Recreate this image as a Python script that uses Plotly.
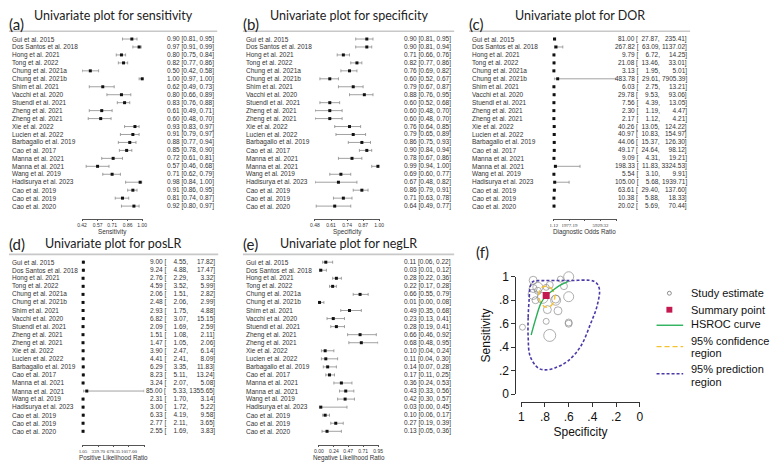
import plotly.graph_objects as go

# --- data ---
studies = ["Gui et al. 2015", "Dos Santos et al. 2018", "Hong et al. 2021", "Tong et al. 2022",
           "Chung et al. 2021a", "Chung et al. 2021b", "Shim et al. 2021", "Vacchi et al. 2020",
           "Stuendl et al. 2021", "Zheng et al. 2021", "Zheng et al. 2021", "Xie et al. 2022",
           "Lucien et al. 2022", "Barbagallo et al. 2019", "Cao et al. 2017", "Manna et al. 2021",
           "Manna et al. 2021", "Wang et al. 2019", "Hadisurya et al. 2023", "Cao et al. 2019",
           "Cao et al. 2019", "Cao et al. 2020"]

sens = [0.90, 0.97, 0.80, 0.82, 0.50, 1.00, 0.62, 0.80, 0.83, 0.61, 0.60, 0.93, 0.91, 0.88, 0.85, 0.72, 0.57, 0.71, 0.98, 0.91, 0.81, 0.92]
sens_lo = [0.81, 0.91, 0.75, 0.77, 0.42, 0.97, 0.49, 0.66, 0.76, 0.49, 0.48, 0.83, 0.79, 0.77, 0.78, 0.61, 0.46, 0.62, 0.84, 0.86, 0.74, 0.80]
sens_hi = [0.95, 0.99, 0.84, 0.86, 0.58, 1.00, 0.73, 0.89, 0.88, 0.71, 0.70, 0.97, 0.97, 0.94, 0.90, 0.81, 0.68, 0.79, 1.00, 0.95, 0.87, 0.97]

spec = [0.90, 0.90, 0.71, 0.82, 0.76, 0.60, 0.79, 0.88, 0.60, 0.60, 0.60, 0.76, 0.79, 0.86, 0.90, 0.78, 0.99, 0.69, 0.67, 0.86, 0.71, 0.64]
spec_lo = [0.81, 0.81, 0.66, 0.77, 0.69, 0.52, 0.67, 0.76, 0.52, 0.48, 0.48, 0.64, 0.65, 0.75, 0.84, 0.67, 0.94, 0.60, 0.48, 0.79, 0.63, 0.49]
spec_hi = [0.95, 0.94, 0.76, 0.86, 0.82, 0.67, 0.87, 0.95, 0.68, 0.70, 0.70, 0.85, 0.89, 0.93, 0.94, 0.86, 1.00, 0.77, 0.82, 0.91, 0.78, 0.77]

dor = [81.00, 267.82, 9.79, 21.08, 3.13, 483.78, 6.03, 29.78, 7.56, 2.30, 2.17, 40.26, 40.97, 44.06, 49.17, 9.09, 198.33, 5.54, 105.00, 63.61, 10.38, 20.02]
dor_lo = [27.87, 63.09, 6.72, 13.46, 1.95, 29.61, 2.75, 9.53, 4.39, 1.19, 1.12, 13.05, 10.83, 15.37, 24.64, 4.31, 11.83, 3.10, 5.68, 29.40, 5.88, 5.69]
dor_hi = [235.41, 1137.02, 14.25, 33.01, 5.01, 7905.39, 13.21, 93.06, 13.05, 4.47, 4.21, 124.22, 154.97, 126.30, 98.12, 19.21, 3324.53, 9.91, 1939.71, 137.60, 18.33, 70.44]

plr = [9.00, 9.24, 2.76, 4.59, 2.06, 2.48, 2.93, 6.82, 2.09, 1.51, 1.47, 3.90, 4.41, 6.29, 8.23, 3.24, 85.00, 2.31, 3.00, 6.33, 2.77, 2.55]
plr_lo = [4.55, 4.88, 2.29, 3.52, 1.51, 2.06, 1.75, 3.07, 1.69, 1.08, 1.05, 2.47, 2.41, 3.35, 5.11, 2.07, 5.33, 1.70, 1.72, 4.19, 2.11, 1.69]
plr_hi = [17.82, 17.47, 3.32, 5.99, 2.82, 2.99, 4.88, 15.15, 2.59, 2.11, 2.06, 6.14, 8.09, 11.83, 13.24, 5.08, 1355.65, 3.14, 5.22, 9.58, 3.65, 3.83]

nlr = [0.11, 0.03, 0.28, 0.22, 0.66, 0.01, 0.49, 0.23, 0.28, 0.66, 0.68, 0.10, 0.11, 0.14, 0.17, 0.36, 0.43, 0.42, 0.03, 0.10, 0.27, 0.13]
nlr_lo = [0.06, 0.01, 0.22, 0.17, 0.55, 0.00, 0.35, 0.13, 0.19, 0.46, 0.48, 0.04, 0.04, 0.07, 0.11, 0.24, 0.33, 0.30, 0.00, 0.06, 0.19, 0.05]
nlr_hi = [0.22, 0.12, 0.36, 0.28, 0.79, 0.08, 0.68, 0.41, 0.41, 0.92, 0.95, 0.24, 0.30, 0.28, 0.25, 0.53, 0.56, 0.57, 0.45, 0.17, 0.39, 0.36]

sens_ticks = [0.42, 0.57, 0.71, 0.86, 1.00]
spec_ticks = [0.48, 0.61, 0.74, 0.87, 1.00]
dor_ticks = [1.12, 1977.19, 3953.26, 5929.32, 7905.39]
dor_ticklabels = ["1.12", "1977.19", "", "5929.32", ""]
plr_ticks = [1.05, 339.70, 678.35, 1017.00, 1355.65]
plr_ticklabels = ["1.05", "339.70", "678.35", "1017.00", ""]
nlr_ticks = [0.00, 0.24, 0.47, 0.71, 0.95]

# SROC panel (f): study circles use spec/sens above, sizes
circle_size = [8, 8, 10, 11, 12, 10, 6, 7, 10, 7, 7, 7, 6, 7, 10, 8, 6, 8, 6, 10, 8, 7]
summary_spec = [0.79]
summary_sens = [0.84]
hsroc_spec = [0.917, 0.875, 0.833, 0.792, 0.733, 0.675, 0.608]
hsroc_sens = [0.504, 0.653, 0.777, 0.835, 0.884, 0.926, 0.959]
conf_spec = [0.717, 0.733, 0.775, 0.825, 0.850, 0.842, 0.800, 0.750, 0.717]
conf_sens = [0.826, 0.884, 0.917, 0.909, 0.860, 0.793, 0.744, 0.752, 0.826]
pred_spec = [0.933, 0.942, 0.942, 0.925, 0.858, 0.800, 0.717, 0.608, 0.500, 0.417, 0.358, 0.342,
             0.383, 0.608, 0.817, 0.900, 0.925, 0.933]
pred_sens = [0.818, 0.653, 0.488, 0.322, 0.223, 0.207, 0.223, 0.281, 0.405, 0.595, 0.760, 0.901,
             0.959, 0.967, 0.967, 0.959, 0.917, 0.818]
roc_ticks = [1, 0.8, 0.6, 0.4, 0.2, 0]
roc_ticktext = ["1", ".8", ".6", ".4", ".2", "0"]

W, H = 780, 471


def px(x):
    return x / W


def py(y):
    return 1 - y / H


def fmt_simple(e, l, h):
    return f"{e:.2f} [{l:.2f}, {h:.2f}]"


FS = "\u2007"  # figure space, same width as a digit


def fmt_padded(e, l, h):
    ls = f"{l:.2f}".rjust(6, FS)
    hs = f"{h:.2f}".rjust(7, FS)
    return f"{e:.2f} [{ls}, {hs}]"


fig = go.Figure()
annotations = []
shapes = []

sans_ticks = dict(family="Liberation Sans, Arial", size=5, color="#333333")
serif_ticks = dict(family="Liberation Serif, Times New Roman", size=4.9, color="#333333")

# top: y of the panel title, letter, separator and first row; axis_y: y of the x axis line
forest = [
    dict(letter="(a)", title="Univariate plot for sensitivity", est=sens, lo=sens_lo, hi=sens_hi,
         ticks=sens_ticks, ticktext=[f"{t:.2f}" for t in sens_ticks], axtitle="Sensitivity",
         left=6, ax0=78, ax1=139, right=213, title_y=9, letter_y=18, line_y=25, row0=33, step=8.2,
         axis_y=218, tf=sans_ticks, fmt=fmt_simple),
    dict(letter="(b)", title="Univariate plot for specificity", est=spec, lo=spec_lo, hi=spec_hi,
         ticks=spec_ticks, ticktext=[f"{t:.2f}" for t in spec_ticks], axtitle="Specificity",
         left=243, ax0=314, ax1=379, right=453, title_y=9, letter_y=18, line_y=25, row0=33, step=8.2,
         axis_y=218, tf=sans_ticks, fmt=fmt_simple),
    dict(letter="(c)", title="Univariate plot for DOR", est=dor, lo=dor_lo, hi=dor_hi,
         ticks=dor_ticks, ticktext=dor_ticklabels, axtitle="Diagnostic Odds Ratio",
         left=472, ax0=556, ax1=619, right=692, title_y=9, letter_y=18, line_y=25, row0=33, step=8.2,
         axis_y=218, tf=serif_ticks, fmt=fmt_padded),
    dict(letter="(d)", title="Univariate plot for posLR", est=plr, lo=plr_lo, hi=plr_hi,
         ticks=plr_ticks, ticktext=plr_ticklabels, axtitle="Positive Likelihood Ratio",
         left=6, ax0=79, ax1=141, right=214, title_y=243.5, letter_y=244, line_y=255, row0=263, step=8.3,
         axis_y=451, tf=serif_ticks, fmt=fmt_padded),
    dict(letter="(e)", title="Univariate plot for negLR", est=nlr, lo=nlr_lo, hi=nlr_hi,
         ticks=nlr_ticks, ticktext=[f"{t:.2f}" for t in nlr_ticks], axtitle="Negative Likelihood Ratio",
         left=243, ax0=318, ax1=378, right=453, title_y=243.5, letter_y=244, line_y=255, row0=263, step=8.3,
         axis_y=451, tf=sans_ticks, fmt=fmt_simple),
]

rows = list(range(len(studies)))
text_font = dict(family="Liberation Sans, Arial", size=6.5, color="#333333")
layout_axes = {}

for i, p in enumerate(forest):
    n = i + 1
    xa = "x" if n == 1 else f"x{n}"
    ya = "y" if n == 1 else f"y{n}"
    step = p["step"]
    row0 = p["row0"]
    row_last = row0 + step * (len(studies) - 1)

    fig.add_trace(go.Scatter(
        x=p["est"], y=rows, xaxis=xa, yaxis=ya, mode="markers", showlegend=False,
        cliponaxis=False,
        marker=dict(symbol="square", size=3, color="#111111"),
        error_x=dict(type="data", symmetric=False,
                     array=[h - e for e, h in zip(p["est"], p["hi"])],
                     arrayminus=[e - l for e, l in zip(p["est"], p["lo"])],
                     color="#8a8a8a", thickness=0.8, width=1.5),
        hoverinfo="skip",
    ))

    layout_axes["xaxis" if n == 1 else f"xaxis{n}"] = dict(
        domain=[px(p["ax0"]), px(p["ax1"])], range=[p["ticks"][0], p["ticks"][-1]],
        anchor="free", position=py(p["axis_y"]), showline=True, linecolor="#555555", linewidth=0.8,
        ticks="outside", ticklen=2, tickcolor="#555555", tickwidth=0.8,
        tickvals=p["ticks"], ticktext=p["ticktext"], tickangle=0, tickfont=p["tf"],
        showgrid=False, zeroline=False, fixedrange=True,
    )
    layout_axes["yaxis" if n == 1 else f"yaxis{n}"] = dict(
        domain=[py(row_last + step / 2), py(row0 - step / 2)],
        range=[len(studies) - 0.5, -0.5], visible=False, fixedrange=True,
    )

    # study names and estimates
    for r, name in enumerate(studies):
        annotations.append(dict(text=name, xref="paper", yref=ya, x=px(p["left"]), y=r,
                                xanchor="left", yanchor="middle", showarrow=False,
                                borderpad=0, font=text_font))
        annotations.append(dict(text=p["fmt"](p["est"][r], p["lo"][r], p["hi"][r]),
                                xref="paper", yref=ya, x=px(p["right"]), y=r,
                                xanchor="right", yanchor="middle", showarrow=False,
                                borderpad=0, font=text_font))

    # axis title
    annotations.append(dict(text=p["axtitle"], xref="paper", yref="paper",
                            x=px((p["ax0"] + p["ax1"]) / 2), y=py(p["axis_y"] + 13.5),
                            xanchor="center", yanchor="middle", showarrow=False, borderpad=0,
                            font=dict(family="Liberation Sans, Arial", size=6.3, color="#333333")))
    # separator line under title
    shapes.append(dict(type="line", xref="paper", yref="paper",
                       x0=px(p["left"] - 2), x1=px(p["right"] + 2),
                       y0=py(p["line_y"]), y1=py(p["line_y"]),
                       line=dict(color="#c8c8c8", width=1.6)))
    annotations.append(dict(text=p["title"], xref="paper", yref="paper",
                            x=px((p["left"] + p["right"]) / 2), y=py(p["title_y"]),
                            xanchor="center", yanchor="middle", showarrow=False, borderpad=0,
                            font=dict(family="Lato, Open Sans", size=12.5, color="#222222")))
    annotations.append(dict(text=p["letter"], xref="paper", yref="paper",
                            x=px(p["left"] - 3), y=py(p["letter_y"]),
                            xanchor="left", yanchor="middle", showarrow=False, borderpad=0,
                            font=dict(family="Lato, Open Sans", size=15, color="#222222")))

# --- panel (f): SROC plot ---
roc = dict(xaxis="x6", yaxis="y6", cliponaxis=False, hoverinfo="skip", showlegend=False)
pred_color = "#4a3aa8"
conf_color = "#f5c12e"
hsroc_color = "#2bb05a"
summary_color = "#c41a4f"
circle_color = "#8c8c8c"

fig.add_trace(go.Scatter(
    x=spec, y=sens, mode="markers",
    marker=dict(symbol="circle-open", size=circle_size, color=circle_color, line=dict(width=1)),
    **roc))
fig.add_trace(go.Scatter(
    x=pred_spec, y=pred_sens, mode="lines",
    line=dict(color=pred_color, width=1.6, dash="3px,2px", shape="spline", smoothing=1.0), **roc))
fig.add_trace(go.Scatter(
    x=conf_spec, y=conf_sens, mode="lines",
    line=dict(color=conf_color, width=1.4, dash="5px,3px", shape="spline", smoothing=1.0), **roc))
fig.add_trace(go.Scatter(
    x=hsroc_spec, y=hsroc_sens, mode="lines",
    line=dict(color=hsroc_color, width=1.4, shape="spline"), **roc))
fig.add_trace(go.Scatter(
    x=summary_spec, y=summary_sens, mode="markers",
    marker=dict(symbol="square", size=7, color=summary_color), **roc))

roc_font = dict(family="Liberation Sans, Arial", size=12, color="#111111")
layout_axes["xaxis6"] = dict(
    domain=[px(523), px(643)], range=[1, 0], anchor="free", position=py(407),
    showline=True, linecolor="#333333", linewidth=1, ticks="outside", ticklen=4, tickcolor="#333333",
    tickvals=roc_ticks, ticktext=roc_ticktext, tickfont=roc_font,
    title=dict(text="Specificity", font=roc_font, standoff=4),
    showgrid=False, zeroline=False, fixedrange=True)
layout_axes["yaxis6"] = dict(
    domain=[py(399), py(278)], range=[0, 1], anchor="free", position=px(517),
    showline=True, linecolor="#333333", linewidth=1, ticks="outside", ticklen=4, tickcolor="#333333",
    tickvals=roc_ticks, ticktext=roc_ticktext, tickfont=roc_font,
    title=dict(text="Sensitivity", font=roc_font, standoff=4),
    showgrid=False, zeroline=False, fixedrange=True)

annotations.append(dict(text="(f)", xref="paper", yref="paper", x=px(475), y=py(253),
                        xanchor="left", yanchor="middle", showarrow=False,
                        font=dict(family="Lato, Open Sans", size=15, color="#222222")))

# hand-built legend for panel (f)
leg_font = dict(family="Liberation Sans, Arial", size=11, color="#111111")
leg_x0, leg_x1, leg_text = 660, 687, 694
shapes.append(dict(type="circle", xref="paper", yref="paper",
                   x0=px(671), x1=px(675), y0=py(297), y1=py(293),
                   line=dict(color=circle_color, width=1)))
shapes.append(dict(type="rect", xref="paper", yref="paper",
                   x0=px(670), x1=px(676), y0=py(315), y1=py(309),
                   fillcolor=summary_color, line=dict(width=0)))
shapes.append(dict(type="line", xref="paper", yref="paper", x0=px(leg_x0), x1=px(leg_x1),
                   y0=py(328), y1=py(328), line=dict(color=hsroc_color, width=1.4)))
shapes.append(dict(type="line", xref="paper", yref="paper", x0=px(leg_x0), x1=px(leg_x1),
                   y0=py(350), y1=py(350), line=dict(color=conf_color, width=1.4, dash="5px,3px")))
shapes.append(dict(type="line", xref="paper", yref="paper", x0=px(leg_x0), x1=px(leg_x1),
                   y0=py(378), y1=py(378), line=dict(color=pred_color, width=1.6, dash="3px,2px")))
for txt, yy in [("Study estimate", 295), ("Summary point", 312), ("HSROC curve", 327),
                ("95% confidence", 344), ("region", 357), ("95% prediction", 373), ("region", 386)]:
    annotations.append(dict(text=txt, xref="paper", yref="paper", x=px(leg_text), y=py(yy),
                            xanchor="left", yanchor="middle", showarrow=False, borderpad=0,
                            font=leg_font))

fig.update_layout(
    width=W, height=H, margin=dict(l=0, r=0, t=0, b=0),
    paper_bgcolor="white", plot_bgcolor="white",
    annotations=annotations, shapes=shapes,
    showlegend=False,
    **layout_axes,
)

# the page body has a default 8px margin; remove it so the figure sits at the top-left corner
fig.write_html("out.html", config={"displayModeBar": False},
               post_script="document.body.style.margin='0px';")
